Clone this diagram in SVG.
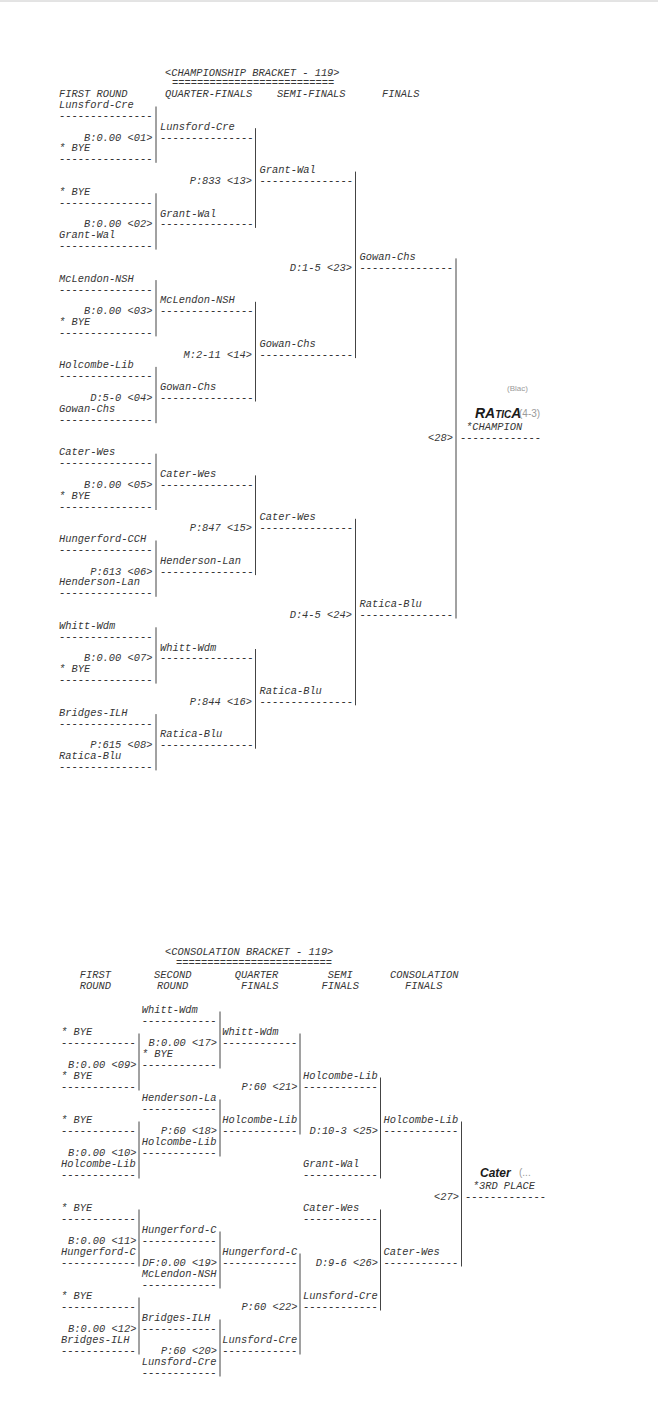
<svg xmlns="http://www.w3.org/2000/svg" width="658" height="1410" viewBox="0 0 658 1410">
<style>
.t{font-family:"Liberation Mono","DejaVu Sans Mono",monospace;font-style:italic;font-size:10.4px;fill:#363636}
.e{text-anchor:end}
#connectors line{stroke:#444;stroke-width:1}
.hw{font-family:"Liberation Sans",Arial,sans-serif;font-weight:bold;font-style:italic;fill:#1a1a1a}
.pen{font-family:"Liberation Sans",Arial,sans-serif;fill:#9a9a9a}
</style>
<rect width="658" height="1410" fill="#fff"/>
<line x1="0" y1="1" x2="658" y2="1" stroke="#c8c8c8" stroke-width="1"/>

<g id="champ-header" class="t">
<text x="165" y="75.5">&lt;CHAMPIONSHIP BRACKET - 119&gt;</text>
<text x="172" y="86.3">==========================</text>
<text x="59" y="97.2">FIRST ROUND</text>
<text x="165" y="97.2">QUARTER-FINALS</text>
<text x="277" y="97.2">SEMI-FINALS</text>
<text x="382" y="97.2">FINALS</text>
</g>

<g id="connectors">
<line x1="156" y1="106.5" x2="156" y2="162.8"/>
<line x1="156" y1="193.3" x2="156" y2="249.6"/>
<line x1="156" y1="280.1" x2="156" y2="336.4"/>
<line x1="156" y1="366.9" x2="156" y2="423.2"/>
<line x1="156" y1="453.7" x2="156" y2="510"/>
<line x1="156" y1="540.5" x2="156" y2="596.8"/>
<line x1="156" y1="627.3" x2="156" y2="683.6"/>
<line x1="156" y1="714.1" x2="156" y2="770.4"/>
<line x1="255.5" y1="128.2" x2="255.5" y2="227.9"/>
<line x1="255.5" y1="301.8" x2="255.5" y2="401.5"/>
<line x1="255.5" y1="475.4" x2="255.5" y2="575.1"/>
<line x1="255.5" y1="649" x2="255.5" y2="748.7"/>
<line x1="355.5" y1="171.6" x2="355.5" y2="358.1"/>
<line x1="355.5" y1="518.8" x2="355.5" y2="705.3"/>
<line x1="456" y1="258.4" x2="456" y2="618.5"/>
<line x1="139" y1="1033.5" x2="139" y2="1090.5"/>
<line x1="139" y1="1121.5" x2="139" y2="1178.5"/>
<line x1="139" y1="1209.5" x2="139" y2="1266.5"/>
<line x1="139" y1="1297.5" x2="139" y2="1354.5"/>
<line x1="220" y1="1011.5" x2="220" y2="1068.5"/>
<line x1="220" y1="1099.5" x2="220" y2="1156.5"/>
<line x1="220" y1="1231.5" x2="220" y2="1288.5"/>
<line x1="220" y1="1319.5" x2="220" y2="1376.5"/>
<line x1="300" y1="1033.5" x2="300" y2="1134.5"/>
<line x1="300" y1="1253.5" x2="300" y2="1354.5"/>
<line x1="380.5" y1="1077.5" x2="380.5" y2="1178.5"/>
<line x1="380.5" y1="1209.5" x2="380.5" y2="1310.5"/>
<line x1="461.5" y1="1121.5" x2="461.5" y2="1266.5"/>
</g>

<g id="championship" class="t">
<g id="m01"><text x="59" y="108">Lunsford-Cre</text><text x="59" y="118.9">---------------</text><text class="e" x="152.5" y="140.6">B:0.00 &lt;01&gt;</text><text x="59" y="151.4">* BYE</text><text x="59" y="162.3">---------------</text></g>
<g id="m02"><text x="59" y="194.8">* BYE</text><text x="59" y="205.7">---------------</text><text class="e" x="152.5" y="227.4">B:0.00 &lt;02&gt;</text><text x="59" y="238.2">Grant-Wal</text><text x="59" y="249.1">---------------</text></g>
<g id="m03"><text x="59" y="281.6">McLendon-NSH</text><text x="59" y="292.5">---------------</text><text class="e" x="152.5" y="314.2">B:0.00 &lt;03&gt;</text><text x="59" y="325">* BYE</text><text x="59" y="335.9">---------------</text></g>
<g id="m04"><text x="59" y="368.4">Holcombe-Lib</text><text x="59" y="379.3">---------------</text><text class="e" x="152.5" y="401">D:5-0 &lt;04&gt;</text><text x="59" y="411.8">Gowan-Chs</text><text x="59" y="422.7">---------------</text></g>
<g id="m05"><text x="59" y="455.2">Cater-Wes</text><text x="59" y="466.1">---------------</text><text class="e" x="152.5" y="487.8">B:0.00 &lt;05&gt;</text><text x="59" y="498.6">* BYE</text><text x="59" y="509.5">---------------</text></g>
<g id="m06"><text x="59" y="542">Hungerford-CCH</text><text x="59" y="552.9">---------------</text><text class="e" x="152.5" y="574.6">P:613 &lt;06&gt;</text><text x="59" y="585.4">Henderson-Lan</text><text x="59" y="596.3">---------------</text></g>
<g id="m07"><text x="59" y="628.8">Whitt-Wdm</text><text x="59" y="639.7">---------------</text><text class="e" x="152.5" y="661.4">B:0.00 &lt;07&gt;</text><text x="59" y="672.2">* BYE</text><text x="59" y="683.1">---------------</text></g>
<g id="m08"><text x="59" y="715.6">Bridges-ILH</text><text x="59" y="726.5">---------------</text><text class="e" x="152.5" y="748.2">P:615 &lt;08&gt;</text><text x="59" y="759">Ratica-Blu</text><text x="59" y="769.9">---------------</text></g>

<g id="m13"><text x="160" y="129.7">Lunsford-Cre</text><text x="160" y="140.6">---------------</text><text class="e" x="252" y="184">P:833 &lt;13&gt;</text><text x="160" y="216.5">Grant-Wal</text><text x="160" y="227.4">---------------</text></g>
<g id="m14"><text x="160" y="303.3">McLendon-NSH</text><text x="160" y="314.2">---------------</text><text class="e" x="252" y="357.6">M:2-11 &lt;14&gt;</text><text x="160" y="390.1">Gowan-Chs</text><text x="160" y="401">---------------</text></g>
<g id="m15"><text x="160" y="476.9">Cater-Wes</text><text x="160" y="487.8">---------------</text><text class="e" x="252" y="531.2">P:847 &lt;15&gt;</text><text x="160" y="563.7">Henderson-Lan</text><text x="160" y="574.6">---------------</text></g>
<g id="m16"><text x="160" y="650.5">Whitt-Wdm</text><text x="160" y="661.4">---------------</text><text class="e" x="252" y="704.8">P:844 &lt;16&gt;</text><text x="160" y="737.3">Ratica-Blu</text><text x="160" y="748.2">---------------</text></g>

<g id="m23"><text x="259.5" y="173.1">Grant-Wal</text><text x="259.5" y="184">---------------</text><text class="e" x="352" y="270.8">D:1-5 &lt;23&gt;</text><text x="259.5" y="346.7">Gowan-Chs</text><text x="259.5" y="357.6">---------------</text></g>
<g id="m24"><text x="259.5" y="520.3">Cater-Wes</text><text x="259.5" y="531.2">---------------</text><text class="e" x="352" y="618">D:4-5 &lt;24&gt;</text><text x="259.5" y="693.9">Ratica-Blu</text><text x="259.5" y="704.8">---------------</text></g>

<g id="m28"><text x="359.5" y="259.9">Gowan-Chs</text><text x="359.5" y="270.8">---------------</text><text class="e" x="453" y="440.5">&lt;28&gt;</text><text x="359.5" y="607.1">Ratica-Blu</text><text x="359.5" y="618">---------------</text></g>

<g id="champion"><text x="466" y="429.5">*CHAMPION</text><text x="460" y="440.5">-------------</text></g>
</g>

<g id="champion-handwriting">
<text class="hw" x="475" y="418" font-size="14">RA<tspan font-size="10">TIC</tspan>A</text>
<text class="pen" x="519" y="417" font-size="10">(4-3)</text>
<text class="pen" x="507" y="391" font-size="8">(Blac)</text>
</g>

<g id="cons-header" class="t">
<text x="165" y="955">&lt;CONSOLATION BRACKET - 119&gt;</text>
<text x="176" y="966">=========================</text>
<text x="79.7" y="977.5">FIRST</text>
<text x="79.7" y="988.5">ROUND</text>
<text x="154" y="977.5">SECOND</text>
<text x="157" y="988.5">ROUND</text>
<text x="234.7" y="977.5">QUARTER</text>
<text x="241" y="988.5">FINALS</text>
<text x="327.7" y="977.5">SEMI</text>
<text x="321.5" y="988.5">FINALS</text>
<text x="390" y="977.5">CONSOLATION</text>
<text x="405" y="988.5">FINALS</text>
</g>

<g id="consolation" class="t">
<g id="m09"><text x="61" y="1035">* BYE</text><text x="61" y="1046">------------</text><text class="e" x="136.5" y="1068">B:0.00 &lt;09&gt;</text><text x="61" y="1079">* BYE</text><text x="61" y="1090">------------</text></g>
<g id="m10"><text x="61" y="1123">* BYE</text><text x="61" y="1134">------------</text><text class="e" x="136.5" y="1156">B:0.00 &lt;10&gt;</text><text x="61" y="1167">Holcombe-Lib</text><text x="61" y="1178">------------</text></g>
<g id="m11"><text x="61" y="1211">* BYE</text><text x="61" y="1222">------------</text><text class="e" x="136.5" y="1244">B:0.00 &lt;11&gt;</text><text x="61" y="1255">Hungerford-C</text><text x="61" y="1266">------------</text></g>
<g id="m12"><text x="61" y="1299">* BYE</text><text x="61" y="1310">------------</text><text class="e" x="136.5" y="1332">B:0.00 &lt;12&gt;</text><text x="61" y="1343">Bridges-ILH</text><text x="61" y="1354">------------</text></g>

<g id="m17"><text x="141.7" y="1013">Whitt-Wdm</text><text x="141.7" y="1024">------------</text><text class="e" x="217" y="1046">B:0.00 &lt;17&gt;</text><text x="141.7" y="1057">* BYE</text><text x="141.7" y="1068">------------</text></g>
<g id="m18"><text x="141.7" y="1101">Henderson-La</text><text x="141.7" y="1112">------------</text><text class="e" x="217" y="1134">P:60 &lt;18&gt;</text><text x="141.7" y="1145">Holcombe-Lib</text><text x="141.7" y="1156">------------</text></g>
<g id="m19"><text x="141.7" y="1233">Hungerford-C</text><text x="141.7" y="1244">------------</text><text class="e" x="217" y="1266">DF:0.00 &lt;19&gt;</text><text x="141.7" y="1277">McLendon-NSH</text><text x="141.7" y="1288">------------</text></g>
<g id="m20"><text x="141.7" y="1321">Bridges-ILH</text><text x="141.7" y="1332">------------</text><text class="e" x="217" y="1354">P:60 &lt;20&gt;</text><text x="141.7" y="1365">Lunsford-Cre</text><text x="141.7" y="1376">------------</text></g>

<g id="m21"><text x="222.3" y="1035">Whitt-Wdm</text><text x="222.3" y="1046">------------</text><text class="e" x="297.5" y="1090">P:60 &lt;21&gt;</text><text x="222.3" y="1123">Holcombe-Lib</text><text x="222.3" y="1134">------------</text></g>
<g id="m22"><text x="222.3" y="1255">Hungerford-C</text><text x="222.3" y="1266">------------</text><text class="e" x="297.5" y="1310">P:60 &lt;22&gt;</text><text x="222.3" y="1343">Lunsford-Cre</text><text x="222.3" y="1354">------------</text></g>

<g id="m25"><text x="303" y="1079">Holcombe-Lib</text><text x="303" y="1090">------------</text><text class="e" x="378" y="1134">D:10-3 &lt;25&gt;</text><text x="303" y="1167">Grant-Wal</text><text x="303" y="1178">------------</text></g>
<g id="m26"><text x="303" y="1211">Cater-Wes</text><text x="303" y="1222">------------</text><text class="e" x="378" y="1266">D:9-6 &lt;26&gt;</text><text x="303" y="1299">Lunsford-Cre</text><text x="303" y="1310">------------</text></g>

<g id="m27"><text x="383.5" y="1123">Holcombe-Lib</text><text x="383.5" y="1134">------------</text><text class="e" x="459" y="1200">&lt;27&gt;</text><text x="383.5" y="1255">Cater-Wes</text><text x="383.5" y="1266">------------</text></g>

<g id="third-place"><text x="472.7" y="1189">*3RD PLACE</text><text x="465" y="1200">-------------</text></g>
</g>

<g id="third-handwriting">
<text class="hw" x="480" y="1177" font-size="12">Cater</text>
<text class="pen" x="519" y="1176" font-size="10">(...</text>
</g>
</svg>
